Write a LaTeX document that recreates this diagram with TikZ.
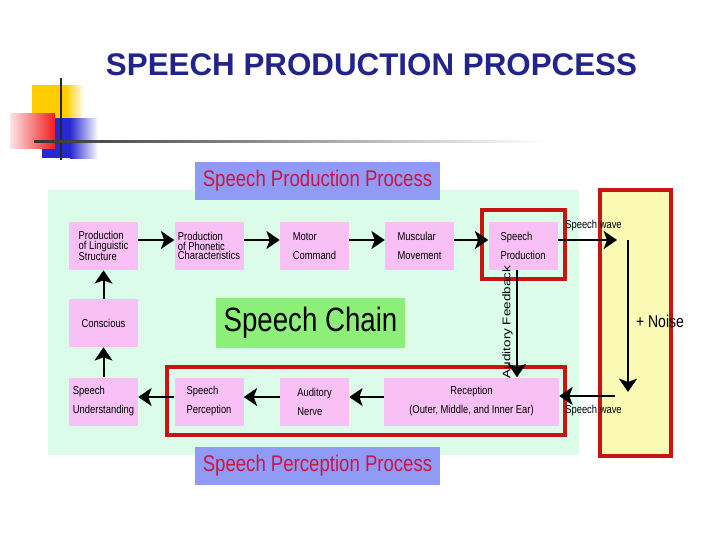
\documentclass[tikz,border=0pt]{standalone}
\usepackage{fontspec}
\setmainfont{Liberation Sans}
\newfontfamily\narrowsf[FakeStretch=0.82]{Liberation Sans}
\usepackage{graphicx}
\usetikzlibrary{arrows.meta}

\definecolor{panelgreen}{RGB}{218,252,232}
\definecolor{boxpink}{RGB}{249,192,245}
\definecolor{labelblue}{RGB}{143,155,245}
\definecolor{labelred}{RGB}{205,20,70}
\definecolor{chaingreen}{RGB}{140,240,120}
\definecolor{noiseyellow}{RGB}{250,250,180}
\definecolor{framered}{RGB}{200,20,20}
\definecolor{titleblue}{RGB}{35,35,140}
\definecolor{logoyellow}{RGB}{255,205,0}
\definecolor{logoblue}{RGB}{40,40,210}
\definecolor{logored}{RGB}{240,30,30}

\tikzset{
  blk/.style={fill=boxpink, minimum width=51.75pt, minimum height=36pt, inner sep=0pt,
    align=left, font=\narrowsf\fontsize{8.6}{14.25}\selectfont},
  flow/.style={line width=1.5pt, -{Stealth[length=10pt,width=13.5pt,inset=2.5pt]}},
  procbox/.style={fill=labelblue, minimum width=183.75pt, minimum height=28.5pt, inner sep=0pt,
    text=labelred, font=\narrowsf\fontsize{17}{17}\selectfont},
  redframe/.style={draw=framered, line width=3pt},
  small/.style={font=\narrowsf\fontsize{8.6}{10}\selectfont, inner sep=0pt}
}

\begin{document}
\begin{tikzpicture}[x=0.75pt,y=0.75pt,yscale=-1,xscale=1]
    \useasboundingbox (0,0) rectangle (720,540);

    %Shape: Logo
    \fill[logoyellow] (32,85) rectangle (66,118);
    \fill[left color=logoyellow, right color=white] (66,85) rectangle (84,118);
    \fill[logoblue] (42,118) rectangle (70,158);
    \fill[left color=logoblue, right color=white] (70,118) rectangle (98,158);
    \fill[left color=logored!12, right color=logored] (10,113) rectangle (55,148);
    \draw[line width=2.2pt, black!85] (61,78) -- (61,160);
    \shade[left color=black!80, right color=white] (34,140) rectangle (545,142.5);

    % Text Node
    \node[text=titleblue, font=\fontsize{23.5}{23.5}\selectfont\bfseries] (title) at (371.5,65) {SPEECH PRODUCTION PROPCESS};

    %Shape: Rectangle
    \fill[panelgreen] (48,190) rectangle (579,455);
    \draw[redframe, fill=noiseyellow] (600,190) rectangle (671,456);

    % Text Node
    \node[procbox] (prodlabel) at (317.5,181) {Speech Production Process};
    \node[procbox] (perclabel) at (317.5,465.5) {Speech Perception Process};
    \node[fill=chaingreen, minimum width=141.75pt, minimum height=37.5pt, inner sep=0pt,
      font=\narrowsf\fontsize{25.3}{25.3}\selectfont] (chain) at (310.5,323) {Speech Chain};

    % Blocks
    \node[blk, font=\narrowsf\fontsize{8.6}{7.4}\selectfont] (linguistic) at (103.5,246) {Production\\of Linguistic\\Structure};
    \node[blk, font=\narrowsf\fontsize{8.6}{7.4}\selectfont] (phonetic) at (209,246) {Production\\of Phonetic\\Characteristics};
    \node[blk] (motor) at (314.5,246) {Motor\\Command};
    \node[blk] (muscular) at (419.5,246) {Muscular\\Movement};
    \node[blk] (speechprod) at (523,246) {Speech\\Production};
    \node[blk] (conscious) at (103.5,323) {Conscious};
    \node[blk] (understand) at (103.5,401.5) {Speech\\Understanding};
    \node[blk] (perception) at (209,401.5) {Speech\\Perception};
    \node[blk] (nerve) at (314.5,401.5) {Auditory\\Nerve};
    \node[blk, minimum width=131.25pt, align=center] (reception) at (471.5,401.5) {Reception\\(Outer, Middle, and Inner Ear)};

    %Shape: Frames
    \draw[redframe] (482,210) rectangle (565,279);
    \draw[redframe] (167,367) rectangle (565,435);

    % Connectors
    \coordinate (row1) at (0,240);
    \coordinate (row3) at (0,397);
    \coordinate (fb) at (517,0);
    \coordinate (wavein) at (617,240);
    \coordinate (noisetop) at (628,240);
    \coordinate (noisebot) at (628,392);
    \coordinate (waveout) at (615,396);

    \draw[flow] (linguistic.east |- row1) -- (phonetic.west |- row1);
    \draw[flow] (phonetic.east |- row1) -- (motor.west |- row1);
    \draw[flow] (motor.east |- row1) -- (muscular.west |- row1);
    \draw[flow] (muscular.east |- row1) -- (speechprod.west |- row1);
    \draw[flow] (speechprod.east |- row1) -- (wavein);
    \draw[flow] (noisetop) -- (noisebot);
    \draw[flow] (waveout) -- (reception.east |- waveout);
    \draw[flow] (reception.west |- row3) -- (nerve.east |- row3);
    \draw[flow] (nerve.west |- row3) -- (perception.east |- row3);
    \draw[flow] (perception.west |- row3) -- (understand.east |- row3);
    \draw[flow] (understand.north) -- (conscious.south);
    \draw[flow] (conscious.north) -- (linguistic.south);
    \draw[flow] (speechprod.south -| fb) -- (reception.north -| fb);

    % Text Node
    \node[rotate=90, inner sep=0pt] (feedback) at (507.5,322) {\scalebox{1}[0.82]{\fontsize{10.1}{10}\selectfont Auditory Feedback}};
    \node[small, anchor=west] (wavetop) at (565,226) {Speech wave};
    \node[small, anchor=west] (wavebot) at (565,411) {Speech wave};
    \node[font=\narrowsf\fontsize{12.8}{12.8}\selectfont, inner sep=0pt] (noise) at (660,321.5) {+ Noise};

\end{tikzpicture}
\end{document}
